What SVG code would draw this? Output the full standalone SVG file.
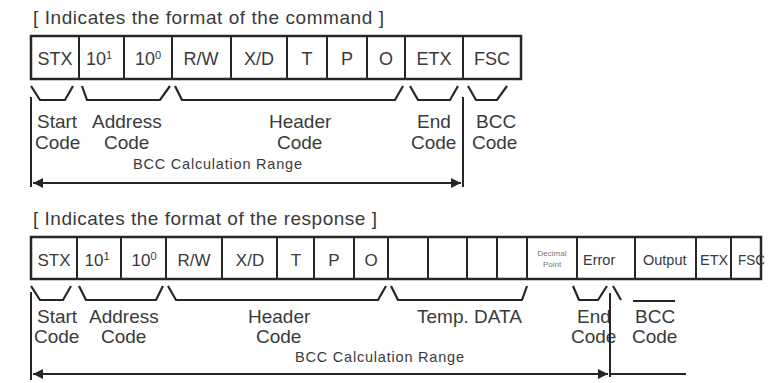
<svg xmlns="http://www.w3.org/2000/svg" width="779" height="383" viewBox="0 0 779 383">
<style>
text{font-family:"Liberation Sans",Arial,sans-serif;fill:#3a3a3a}
.t{font-size:19px}
.c{font-size:18px;text-anchor:middle}
.c2{font-size:17px;text-anchor:middle}
.s{font-size:14.5px}
.l{font-size:19px}
.r{font-size:14.5px}
.box{fill:#fff;stroke:#262626;stroke-width:2.5}
.div{stroke:#262626;stroke-width:2}
.br{fill:none;stroke:#262626;stroke-width:2.2}
.ln{fill:none;stroke:#262626;stroke-width:2}
.sup{font-size:11px}
.dp{font-size:8px;fill:#777;text-anchor:middle}
</style>
<defs>
<marker id="ah" viewBox="0 0 10 10" refX="10" refY="5" markerWidth="5" markerHeight="5" orient="auto-start-reverse" markerUnits="strokeWidth">
<path d="M0,0 L10,5 L0,10 Z" fill="#262626"/>
</marker>
</defs>

<text class="t" x="33" y="24" textLength="351" lengthAdjust="spacing">[ Indicates the format of the command ]</text>

<g id="command-frame">
<rect class="box" x="31" y="36" width="490" height="43"/>
<path class="div" d="M79,36V79M124,36V79M172,36V79M231,36V79M287,36V79M327,36V79M367,36V79M405,36V79M463,36V79"/>
</g>
<g id="cmd-stx"><text class="c" x="55" y="65">STX</text></g>
<g id="cmd-10-1"><text class="c" x="99" y="65">10<tspan class="sup" dy="-6">1</tspan></text></g>
<g id="cmd-10-0"><text class="c" x="148" y="65">10<tspan class="sup" dy="-6">0</tspan></text></g>
<g id="cmd-rw"><text class="c" x="201" y="65">R/W</text></g>
<g id="cmd-xd"><text class="c" x="259" y="65">X/D</text></g>
<g id="cmd-t"><text class="c" x="307" y="65">T</text></g>
<g id="cmd-p"><text class="c" x="347" y="65">P</text></g>
<g id="cmd-o"><text class="c" x="386" y="65">O</text></g>
<g id="cmd-etx"><text class="c" x="434" y="65">ETX</text></g>
<g id="cmd-fsc"><text class="c" x="492" y="65">FSC</text></g>

<g id="cmd-brackets">
<path class="br" d="M31,86 L40,100 L65,100 L73,86"/>
<path class="br" d="M82,86 L87,100 L160,100 L170,86"/>
<path class="br" d="M175,86 L182,100 L395,100 L403,86"/>
<path class="br" d="M410,86 L418,100 L450,100 L458,86"/>
<path class="br" d="M468,86 L476,100 L497,100 L507,86"/>
</g>
<g id="cmd-labels">
<text class="l" x="37" y="128">Start</text><text class="l" x="35" y="149">Code</text>
<text class="l" x="92" y="128">Address</text><text class="l" x="104" y="149">Code</text>
<text class="l" x="269" y="128">Header</text><text class="l" x="277" y="149">Code</text>
<text class="l" x="417" y="128">End</text><text class="l" x="411" y="149">Code</text>
<text class="l" x="476" y="128">BCC</text><text class="l" x="472" y="149">Code</text>
<text class="r" x="133" y="169" textLength="169" lengthAdjust="spacing">BCC Calculation Range</text>
</g>
<g id="cmd-range">
<path class="ln" d="M31,97V187M463,97V187"/>
<path class="ln" d="M33,183H461" marker-start="url(#ah)" marker-end="url(#ah)"/>
</g>

<text class="t" x="33" y="225" textLength="344" lengthAdjust="spacing">[ Indicates the format of the response ]</text>

<g id="response-frame">
<rect class="box" x="31" y="237" width="730" height="42"/>
<path class="div" d="M77,237V279M121,237V279M166,237V279M222,237V279M277,237V279M314,237V279M354,237V279M388,237V279M428,237V279M467,237V279M497,237V279M527,237V279M577,237V279M635,237V279M696,237V279M731,237V279"/>
</g>
<g id="rsp-stx"><text class="c2" x="54" y="266">STX</text></g>
<g id="rsp-10-1"><text class="c2" x="97" y="266">10<tspan class="sup" dy="-6">1</tspan></text></g>
<g id="rsp-10-0"><text class="c2" x="144" y="266">10<tspan class="sup" dy="-6">0</tspan></text></g>
<g id="rsp-rw"><text class="c2" x="194" y="266">R/W</text></g>
<g id="rsp-xd"><text class="c2" x="250" y="266">X/D</text></g>
<g id="rsp-t"><text class="c2" x="296" y="266">T</text></g>
<g id="rsp-p"><text class="c2" x="334" y="266">P</text></g>
<g id="rsp-o"><text class="c2" x="371" y="266">O</text></g>
<g id="rsp-dp"><text class="dp" x="552" y="256">Decimal</text><text class="dp" x="552" y="267">Point</text></g>
<g id="rsp-error"><text class="s" x="583" y="265">Error</text></g>
<g id="rsp-output"><text class="s" x="643" y="265">Output</text></g>
<g id="rsp-etx"><text class="s" x="700" y="265">ETX</text></g>
<g id="rsp-fsc"><text class="s" x="738" y="265" textLength="27" lengthAdjust="spacingAndGlyphs">FSC</text></g>

<g id="rsp-brackets">
<path class="br" d="M31,286 L40,300 L63,300 L71,286"/>
<path class="br" d="M79,286 L86,300 L156,300 L163,286"/>
<path class="br" d="M168,286 L176,300 L378,300 L386,286"/>
<path class="br" d="M391,286 L398,300 L522,300 L527,286"/>
<path class="br" d="M573,286 L579,300 L598,300 L607,286"/>
<path class="br" d="M613,286 L621,300"/>
<path class="br" d="M633,301 H675"/>
</g>
<g id="rsp-labels">
<text class="l" x="37" y="323">Start</text><text class="l" x="34" y="343">Code</text>
<text class="l" x="89" y="323">Address</text><text class="l" x="101" y="343">Code</text>
<text class="l" x="248" y="323">Header</text><text class="l" x="256" y="343">Code</text>
<text class="l" x="417" y="323">Temp. DATA</text>
<text class="l" x="577" y="323">End</text><text class="l" x="571" y="343">Code</text>
<text class="l" x="635" y="323">BCC</text><text class="l" x="632" y="343">Code</text>
<text class="r" x="295" y="362" textLength="169" lengthAdjust="spacing">BCC Calculation Range</text>
</g>
<g id="rsp-range">
<path class="ln" d="M31,292V380M610,293V377"/>
<path class="ln" d="M33,374H608" marker-start="url(#ah)" marker-end="url(#ah)"/>
<path class="ln" d="M610,374H686"/>
</g>
</svg>
